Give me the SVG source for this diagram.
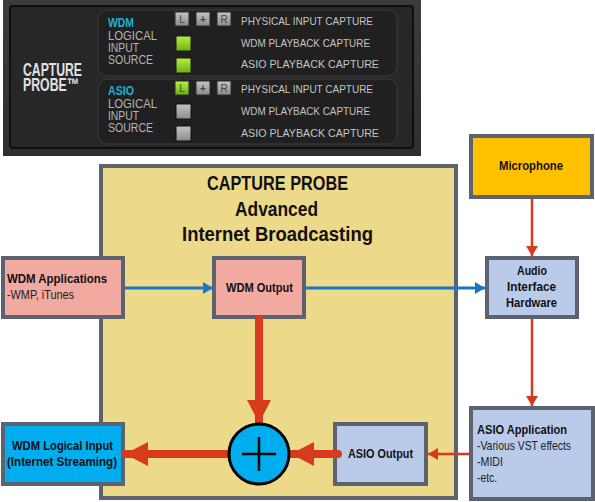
<svg xmlns="http://www.w3.org/2000/svg" width="595" height="502" viewBox="0 0 595 502">
<defs>
<style>
text{font-family:"Liberation Sans","DejaVu Sans",sans-serif}
.node{stroke:#5b6270;stroke-width:4}
.lbl{font-weight:bold;font-size:13.5px;fill:#111}
.sub{font-size:13px;fill:#222}
.ttl{font-weight:bold;font-size:19.5px;fill:#111;text-anchor:middle}
.ptxt{font-size:11px;fill:#c4c4c4}
.ltxt{font-size:12px;fill:#b4b4b4}
.btxt{font-size:10px;fill:#444;text-anchor:middle}
</style>
<linearGradient id="pg" x1="0" y1="0" x2="0" y2="1">
<stop offset="0" stop-color="#3c3c3c"/><stop offset="1" stop-color="#2e2e2e"/>
</linearGradient>
<linearGradient id="gg" x1="0" y1="0" x2="0" y2="1">
<stop offset="0" stop-color="#b6f040"/><stop offset="1" stop-color="#6cb010"/>
</linearGradient>
<linearGradient id="bg" x1="0" y1="0" x2="0" y2="1">
<stop offset="0" stop-color="#c4c4c4"/><stop offset="1" stop-color="#8a8a8a"/>
</linearGradient>
<marker id="ab" markerWidth="10" markerHeight="12" refX="10" refY="6" orient="auto" markerUnits="userSpaceOnUse">
<path d="M0,0 L10,6 L0,12 Z" fill="#1a76c6"/>
</marker>
<marker id="ar" markerWidth="10" markerHeight="12" refX="10" refY="6" orient="auto" markerUnits="userSpaceOnUse">
<path d="M0,0 L10,6 L0,12 Z" fill="#d83a1e"/>
</marker>
<marker id="arb" markerWidth="23" markerHeight="24" refX="23" refY="12" orient="auto" markerUnits="userSpaceOnUse">
<path d="M0,0 L23,12 L0,24 Z" fill="#d83a1e"/>
</marker>
</defs>

<!-- Top control panel -->
<g id="panel">
<rect x="3" y="0" width="418" height="156" fill="url(#pg)"/>
<rect x="10" y="6" width="403" height="142" rx="3" fill="#272727" stroke="#0e0e0e" stroke-width="2"/>
<text x="23" y="76" font-size="18" font-weight="bold" fill="#e2e2e2" textLength="59" lengthAdjust="spacingAndGlyphs">CAPTURE</text>
<text x="23" y="91" font-size="18" font-weight="bold" fill="#e2e2e2" textLength="56" lengthAdjust="spacingAndGlyphs">PROBE™</text>
<rect x="98" y="10" width="299" height="66" rx="9" fill="#202020" stroke="#3c3c3c" stroke-width="1"/>
<rect x="98" y="79" width="299" height="65" rx="9" fill="#202020" stroke="#3c3c3c" stroke-width="1"/>
<text x="108" y="27" font-size="12" font-weight="bold" fill="#1eb0d0" textLength="26" lengthAdjust="spacingAndGlyphs">WDM</text>
<text class="ltxt" x="108" y="40" textLength="49" lengthAdjust="spacingAndGlyphs">LOGICAL</text>
<text class="ltxt" x="108" y="52" textLength="31" lengthAdjust="spacingAndGlyphs">INPUT</text>
<text class="ltxt" x="108" y="64" textLength="45" lengthAdjust="spacingAndGlyphs">SOURCE</text>
<text x="108" y="95" font-size="12" font-weight="bold" fill="#1eb0d0" textLength="26" lengthAdjust="spacingAndGlyphs">ASIO</text>
<text class="ltxt" x="108" y="108" textLength="49" lengthAdjust="spacingAndGlyphs">LOGICAL</text>
<text class="ltxt" x="108" y="120" textLength="31" lengthAdjust="spacingAndGlyphs">INPUT</text>
<text class="ltxt" x="108" y="132" textLength="45" lengthAdjust="spacingAndGlyphs">SOURCE</text>
<rect x="175" y="12" width="14" height="14" fill="url(#bg)" stroke="#2a2a2a"/>
<text class="btxt" x="182" y="23">L</text>
<rect x="196" y="12" width="14" height="14" fill="url(#bg)" stroke="#2a2a2a"/>
<text class="btxt" x="203" y="23" font-weight="bold">+</text>
<rect x="217" y="12" width="14" height="14" fill="url(#bg)" stroke="#2a2a2a"/>
<text class="btxt" x="224" y="23">R</text>
<rect x="176" y="36" width="15" height="15" fill="url(#gg)" stroke="#1a1a1a"/>
<rect x="176" y="58" width="15" height="15" fill="url(#gg)" stroke="#1a1a1a"/>
<rect x="175" y="81" width="14" height="14" fill="url(#gg)" stroke="#2a2a2a"/>
<text class="btxt" x="182" y="92" fill="#4a7a10">L</text>
<rect x="196" y="81" width="14" height="14" fill="url(#bg)" stroke="#2a2a2a"/>
<text class="btxt" x="203" y="92" font-weight="bold">+</text>
<rect x="217" y="81" width="14" height="14" fill="url(#bg)" stroke="#2a2a2a"/>
<text class="btxt" x="224" y="92">R</text>
<rect x="176" y="104" width="15" height="15" fill="url(#bg)" stroke="#111"/>
<rect x="176" y="126" width="15" height="15" fill="url(#bg)" stroke="#111"/>
<text class="ptxt" x="241" y="25" textLength="132" lengthAdjust="spacingAndGlyphs">PHYSICAL INPUT CAPTURE</text>
<text class="ptxt" x="241" y="47" textLength="129" lengthAdjust="spacingAndGlyphs">WDM PLAYBACK CAPTURE</text>
<text class="ptxt" x="241" y="68" textLength="138" lengthAdjust="spacingAndGlyphs">ASIO PLAYBACK CAPTURE</text>
<text class="ptxt" x="241" y="93" textLength="132" lengthAdjust="spacingAndGlyphs">PHYSICAL INPUT CAPTURE</text>
<text class="ptxt" x="241" y="115" textLength="129" lengthAdjust="spacingAndGlyphs">WDM PLAYBACK CAPTURE</text>
<text class="ptxt" x="241" y="137" textLength="138" lengthAdjust="spacingAndGlyphs">ASIO PLAYBACK CAPTURE</text>
</g>

<!-- Main container -->
<g id="capture-probe">
<rect x="101" y="166" width="355" height="332" fill="#edd98a" stroke="#5b6270" stroke-width="4"/>
<text class="ttl" x="277.5" y="190" textLength="141" lengthAdjust="spacingAndGlyphs">CAPTURE PROBE</text>
<text class="ttl" x="276.5" y="216" textLength="83" lengthAdjust="spacingAndGlyphs">Advanced</text>
<text class="ttl" x="277.5" y="241" textLength="191" lengthAdjust="spacingAndGlyphs">Internet Broadcasting</text>
</g>

<g id="wdm-applications">
<rect class="node" x="3" y="258" width="120" height="59" fill="#f2aaa0"/>
<text class="lbl" x="7" y="283" textLength="100" lengthAdjust="spacingAndGlyphs">WDM Applications</text>
<text class="sub" x="7" y="299" textLength="67" lengthAdjust="spacingAndGlyphs">-WMP, iTunes</text>
</g>

<g id="wdm-output">
<rect class="node" x="214" y="258" width="90" height="59" fill="#f2aaa0"/>
<text class="lbl" x="259.5" y="292" text-anchor="middle" textLength="67" lengthAdjust="spacingAndGlyphs">WDM Output</text>
</g>

<g id="microphone">
<rect class="node" x="471" y="136" width="121" height="61" fill="#ffc000"/>
<text class="lbl" x="531" y="170" text-anchor="middle" textLength="64" lengthAdjust="spacingAndGlyphs">Microphone</text>
</g>

<g id="audio-interface">
<rect class="node" x="487" y="258" width="90" height="59" fill="#b9cbe9"/>
<text class="lbl" x="532" y="275" text-anchor="middle" textLength="30" lengthAdjust="spacingAndGlyphs">Audio</text>
<text class="lbl" x="531.5" y="291" text-anchor="middle" textLength="49" lengthAdjust="spacingAndGlyphs">Interface</text>
<text class="lbl" x="531.5" y="307" text-anchor="middle" textLength="51" lengthAdjust="spacingAndGlyphs">Hardware</text>
</g>

<g id="asio-application">
<rect class="node" x="471" y="408" width="122" height="91" fill="#b9cbe9"/>
<text class="lbl" x="477" y="434" textLength="90" lengthAdjust="spacingAndGlyphs">ASIO Application</text>
<text class="sub" x="477" y="450" textLength="94" lengthAdjust="spacingAndGlyphs">-Various VST effects</text>
<text class="sub" x="477" y="466" textLength="26" lengthAdjust="spacingAndGlyphs">-MIDI</text>
<text class="sub" x="477" y="482" textLength="20" lengthAdjust="spacingAndGlyphs">-etc.</text>
</g>

<g id="asio-output">
<rect class="node" x="335" y="424" width="91" height="60" fill="#b9cbe9"/>
<text class="lbl" x="380.5" y="458" text-anchor="middle" textLength="65" lengthAdjust="spacingAndGlyphs">ASIO Output</text>
</g>

<g id="wdm-logical-input">
<rect class="node" x="3" y="424" width="120" height="60" fill="#00aeef"/>
<text class="lbl" x="62.5" y="450" text-anchor="middle" textLength="101" lengthAdjust="spacingAndGlyphs">WDM Logical Input</text>
<text class="lbl" x="62" y="466" text-anchor="middle" textLength="110" lengthAdjust="spacingAndGlyphs">(Internet Streaming)</text>
</g>

<g id="connectors" fill="none">
<line x1="125" y1="288" x2="213" y2="288" stroke="#1a76c6" stroke-width="2.8" marker-end="url(#ab)"/>
<line x1="306" y1="288" x2="485" y2="288" stroke="#1a76c6" stroke-width="2.8" marker-end="url(#ab)"/>
<line x1="532" y1="199" x2="532" y2="256" stroke="#d83a1e" stroke-width="2.5" marker-end="url(#ar)"/>
<line x1="532" y1="319" x2="532" y2="406" stroke="#d83a1e" stroke-width="2.5" marker-end="url(#ar)"/>
<line x1="469" y1="454" x2="428" y2="454" stroke="#d83a1e" stroke-width="2.5" marker-end="url(#ar)"/>
<line x1="259" y1="319" x2="259" y2="423" stroke="#d83a1e" stroke-width="8" stroke-linecap="round" marker-end="url(#arb)"/>
<line x1="338" y1="454" x2="291" y2="454" stroke="#d83a1e" stroke-width="8" stroke-linecap="round" marker-end="url(#arb)"/>
<line x1="229" y1="454" x2="125" y2="454" stroke="#d83a1e" stroke-width="8" stroke-linecap="round" marker-end="url(#arb)"/>
</g>

<g id="sum">
<circle cx="259" cy="454" r="30" fill="#00aeef" stroke="#000" stroke-width="3"/>
<path d="M242,454 H276 M259,437 V471" stroke="#000" stroke-width="2.5"/>
</g>
</svg>
